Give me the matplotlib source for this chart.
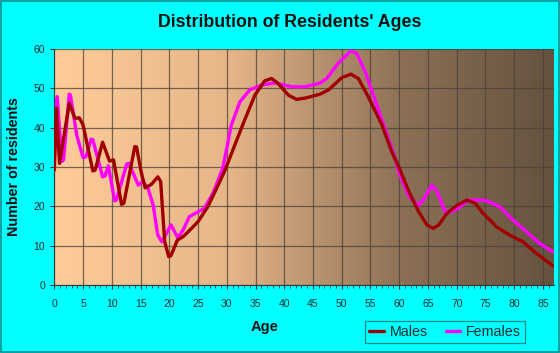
import matplotlib
matplotlib.use('Agg')
import matplotlib.pyplot as plt
import numpy as np
from matplotlib.colors import LinearSegmentedColormap
from matplotlib.patches import Rectangle

plt.rcParams['font.family'] = ['Liberation Sans', 'DejaVu Sans']

# values
male_age = [0, 0.4, 0.9, 2.6, 3.6, 4.35, 5.0, 6.7, 7.1, 8.4, 9.6, 10.3, 11.7, 12.1,
            14.0, 14.3, 15.1, 15.8, 16.9, 18.0, 18.5, 19.2, 19.9, 20.3, 21.4, 22.4,
            23.2, 25.0, 26.7, 28.5, 29.7, 31.4, 33.1, 34.9, 36.6, 37.8, 38.9, 40.7,
            42.1, 43.6, 46.2, 47.7, 50.0, 51.6, 52.9, 54.6, 57.0, 58.7, 59.9, 61.7,
            63.4, 64.8, 65.9, 66.9, 68.3, 70.1, 71.8, 73.2, 74.6, 76.4, 76.9, 79.2,
            81.5, 83.8, 86.7]
male_val = [29.2, 44.9, 30.9, 46.2, 42.4, 42.5, 40.7, 29.0, 29.2, 36.3, 31.5, 31.8, 20.5, 20.8,
            35.2, 35.1, 28.8, 24.7, 25.6, 27.5, 26.3, 11.0, 7.2, 7.5, 11.4, 12.3,
            13.4, 16.1, 19.9, 25.4, 29.2, 35.6, 41.9, 48.3, 51.9, 52.5, 51.3, 48.3,
            47.2, 47.5, 48.5, 49.6, 52.7, 53.6, 52.5, 47.9, 40.7, 33.9, 30.1, 23.7,
            18.6, 15.3, 14.4, 15.3, 18.2, 20.3, 21.6, 20.8, 18.2, 15.6, 14.8, 12.7,
            11.0, 8.1, 4.9]

female_age = [0, 0.5, 1.3, 1.6, 2.6, 2.8, 3.9, 5.0, 5.5, 6.4, 6.7, 8.4, 8.8, 9.4, 10.5,
              10.8, 12.6, 13.0, 14.6, 15.4, 16.3, 17.2, 18.0, 18.7, 19.5, 20.3, 20.9,
              21.5, 22.4, 23.5, 25.0, 26.1, 27.6, 29.3, 30.8, 32.3, 34.0, 36.0, 38.4,
              41.3, 43.6, 46.2, 47.4, 49.4, 51.6, 52.6, 54.1, 55.8, 57.5, 59.3, 59.9,
              61.7, 63.4, 64.3, 65.7, 66.6, 68.0, 69.2, 70.6, 72.0, 74.4, 75.2, 77.5,
              79.8, 82.1, 84.4, 86.7]
female_val = [44.0, 47.9, 31.4, 31.8, 48.5, 48.3, 38.1, 32.4, 32.6, 37.1, 36.9, 27.5, 27.7, 30.3, 21.4,
              21.6, 30.8, 30.9, 25.4, 26.3, 24.6, 20.3, 12.7, 11.0, 13.1, 15.3, 13.6,
              12.0, 14.0, 17.4, 18.6, 19.5, 23.3, 29.7, 40.7, 46.6, 49.6, 50.8, 51.4,
              50.4, 50.4, 51.3, 52.5, 56.4, 59.5, 58.9, 54.2, 47.0, 39.8, 32.2, 28.8,
              22.5, 20.3, 21.9, 25.4, 23.7, 18.6, 18.6, 19.9, 21.6, 21.6, 21.4, 19.9,
              16.5, 13.6, 10.6, 8.5]

x_ticks = list(range(0, 90, 5))
y_ticks = list(range(0, 70, 10))

fig = plt.figure(figsize=(5.6, 3.53), dpi=100)
fig.patch.set_facecolor('#00ffff')
fig.patches.append(Rectangle((0.001, 0.002), 0.997, 0.995, transform=fig.transFigure,
                             fill=False, edgecolor='#109090', lw=1.2))

ax = fig.add_axes([0.097, 0.1926, 0.892, 0.6686])
ax.set_xlim(0, 86.9)
ax.set_ylim(0, 60)

bg = LinearSegmentedColormap.from_list('bg', [(0.0, '#ffcc99'), (0.35, '#e6b689'),
                                              (0.7, '#8c7055'), (1.0, '#64523f')])
ax.imshow(np.linspace(0, 1, 256).reshape(1, -1), cmap=bg, aspect='auto',
          extent=(0, 86.9, 0, 60), zorder=0)

ax.set_xticks(x_ticks)
ax.set_xticks(range(0, 87), minor=True)
ax.set_yticks(y_ticks)
ax.grid(True, which='major', color='#4a4038', lw=0.9, alpha=0.75)
ax.tick_params(axis='both', which='major', length=3, width=0.8, color='#333333',
               labelsize=7.5, labelcolor='#103030')
ax.tick_params(axis='x', which='major', pad=7)
ax.tick_params(axis='x', which='minor', length=2.5, width=0.6, color='#333333')
for s in ['top', 'right']:
    ax.spines[s].set_visible(False)
for s in ['left', 'bottom']:
    ax.spines[s].set_color('#2a4040')
    ax.spines[s].set_linewidth(0.8)

ax.plot(male_age, male_val, color='#a00000', lw=2.4, label='Males',
        solid_joinstyle='round', solid_capstyle='round', zorder=4)
ax.plot(female_age, female_val, color='#ff00ff', lw=2.4, label='Females',
        solid_joinstyle='round', solid_capstyle='round', zorder=2)

fig.text(0.518, 0.935, "Distribution of Residents' Ages", ha='center', va='center',
         fontsize=12.8, fontweight='bold', color='#111111')
fig.text(0.025, 0.527, 'Number of residents', rotation=90, ha='center', va='center',
         fontsize=10.3, fontweight='bold', color='#111111')
fig.text(0.473, 0.073, 'Age', ha='center', va='center',
         fontsize=10.5, fontweight='bold', color='#111111')

leg = fig.legend(handles=ax.lines[:], labels=['Males', 'Females'], ncol=2,
                 loc='center', bbox_to_anchor=(0.795, 0.059), frameon=True,
                 fontsize=10.3, handlelength=1.0, handletextpad=0.4, columnspacing=1.3,
                 borderpad=0.3, fancybox=False)
leg.get_frame().set_facecolor('#00ffff')
leg.get_frame().set_edgecolor('#107070')
leg.get_frame().set_linewidth(0.9)
for t in leg.get_texts():
    t.set_color('#103030')

fig.savefig('out.png', dpi=100, facecolor=fig.get_facecolor())
